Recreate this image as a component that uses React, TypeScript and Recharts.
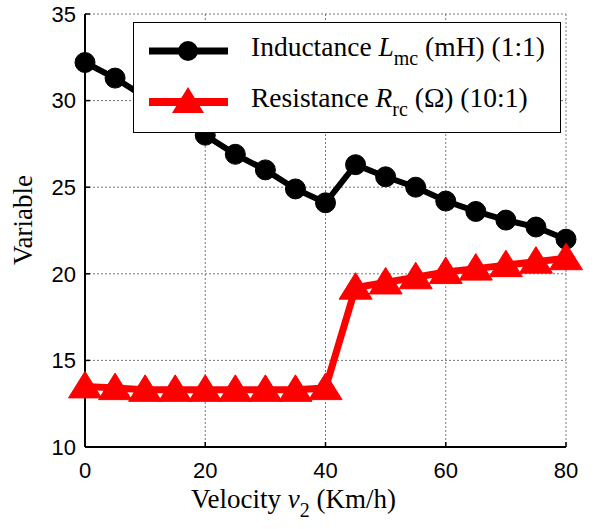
import {
  CartesianGrid,
  Line,
  LineChart,
  XAxis,
  YAxis,
} from 'recharts';

const VELOCITY = [0, 5, 10, 15, 20, 25, 30, 35, 40, 45, 50, 55, 60, 65, 70, 75, 80];
const INDUCTANCE = [32.2, 31.3, 30.2, 29.1, 28.0, 26.9, 26.0, 24.9, 24.1, 26.3, 25.6, 25.0, 24.2, 23.6, 23.1, 22.7, 22.0];
const RESISTANCE = [13.5, 13.4, 13.3, 13.3, 13.3, 13.3, 13.3, 13.3, 13.4, 19.2, 19.5, 19.8, 20.1, 20.3, 20.5, 20.7, 20.9];
const X_TICKS = [0, 20, 40, 60, 80];
const Y_TICKS = [10, 15, 20, 25, 30, 35];

const SERIF = '"Liberation Serif", "Times New Roman", serif';
const SANS = '"Liberation Sans", Arial, sans-serif';

const chartData = VELOCITY.map((v, i) => ({
  v,
  inductance: INDUCTANCE[i],
  resistance: RESISTANCE[i],
}));

function Triangle({ cx, cy }: { cx?: number; cy?: number }) {
  if (cx == null || cy == null) return null;
  return (
    <path
      d={`M${cx},${cy - 15} L${cx + 16.5},${cy + 11.5} L${cx - 16.5},${cy + 11.5} Z`}
      fill="#ff0000"
      stroke="#ff0000"
      strokeWidth={1}
    />
  );
}

function XTitle({ viewBox }: any) {
  const cx = viewBox.x + viewBox.width / 2 - 32;
  return (
    <text x={cx} y={508} textAnchor="middle" fontFamily={SERIF} fontSize={27} fill="#000">
      Velocity{' '}
      <tspan fontStyle="italic">v</tspan>
      <tspan fontSize={20} dy={9}>2</tspan>
      <tspan dy={-9}> (Km/h)</tspan>
    </text>
  );
}

function YTitle() {
  return (
    <text
      x={32}
      y={220}
      textAnchor="middle"
      transform="rotate(-90, 32, 220)"
      fontFamily={SERIF}
      fontSize={27}
      fill="#000"
    >
      Variable
    </text>
  );
}

function LegendBox() {
  const row = (color: string, marker: 'circle' | 'tri', label: React.ReactNode) => (
    <div style={{ display: 'flex', alignItems: 'center', height: 51 }}>
      <svg width={100} height={40} style={{ marginLeft: 12, flex: 'none' }}>
        <line x1={3} y1={20} x2={82} y2={20} stroke={color} strokeWidth={marker === 'circle' ? 7 : 8} />
        {marker === 'circle' ? (
          <circle cx={42} cy={20} r={10} fill="#000" />
        ) : (
          <path d="M42,5 L58,31 L26,31 Z" fill="#ff0000" />
        )}
      </svg>
      <span style={{ fontFamily: SERIF, fontSize: 27.5, whiteSpace: 'nowrap', marginLeft: 5 }}>{label}</span>
    </div>
  );
  return (
    <div
      style={{
        position: 'absolute',
        left: 133,
        top: 22,
        width: 426,
        height: 107,
        border: '1.5px solid #000',
        background: '#fff',
        paddingTop: 2,
      }}
    >
      {row(
        '#000',
        'circle',
        <>
          Inductance <i>L</i>
          <sub style={{ fontSize: 20, verticalAlign: -9 }}>mc</sub> (mH) (1:1)
        </>
      )}
      {row(
        '#ff0000',
        'tri',
        <>
          Resistance <i>R</i>
          <sub style={{ fontSize: 20, verticalAlign: -9 }}>rc</sub> (Ω) (10:1)
        </>
      )}
    </div>
  );
}

export default function App() {
  const axisLine = { stroke: '#000', strokeWidth: 2 };
  const tickLine = { stroke: '#000', strokeWidth: 1.5 };
  return (
    <div style={{ position: 'absolute', left: 0, top: 0, width: 596, height: 529, background: '#fff' }}>
      <LineChart
        width={596}
        height={529}
        data={chartData}
        margin={{ top: 14, right: 30, bottom: 52, left: 0 }}
      >
        <CartesianGrid stroke="#777" strokeDasharray="2 2" strokeWidth={1} />
        <XAxis
          dataKey="v"
          type="number"
          domain={[0, 80]}
          ticks={X_TICKS}
          height={30}
          axisLine={axisLine}
          tickLine={tickLine}
          tickSize={-5}
          tickMargin={20}
          tick={{ fill: '#000', fontSize: 22, fontFamily: SANS }}
          label={<XTitle />}
        />
        <XAxis
          xAxisId="top"
          orientation="top"
          dataKey="v"
          type="number"
          domain={[0, 80]}
          ticks={X_TICKS}
          height={0}
          axisLine={axisLine}
          tickLine={tickLine}
          tickSize={-5}
          tick={false}
        />
        <YAxis
          type="number"
          domain={[10, 35]}
          ticks={Y_TICKS}
          width={85}
          axisLine={axisLine}
          tickLine={tickLine}
          tickSize={-5}
          tickMargin={14}
          tick={{ fill: '#000', fontSize: 22, fontFamily: SANS }}
          label={<YTitle />}
          allowDataOverflow
        />
        <YAxis
          yAxisId="right"
          orientation="right"
          type="number"
          domain={[10, 35]}
          ticks={Y_TICKS}
          width={0}
          axisLine={axisLine}
          tickLine={tickLine}
          tickSize={-5}
          tick={false}
        />
        <Line
          type="linear"
          dataKey="inductance"
          stroke="#000"
          strokeWidth={6}
          dot={{ r: 10, fill: '#000', stroke: '#000', strokeWidth: 1 }}
          isAnimationActive={false}
        />
        <Line
          type="linear"
          dataKey="resistance"
          stroke="#ff0000"
          strokeWidth={7}
          dot={<Triangle />}
          isAnimationActive={false}
        />
      </LineChart>
      <LegendBox />
    </div>
  );
}
